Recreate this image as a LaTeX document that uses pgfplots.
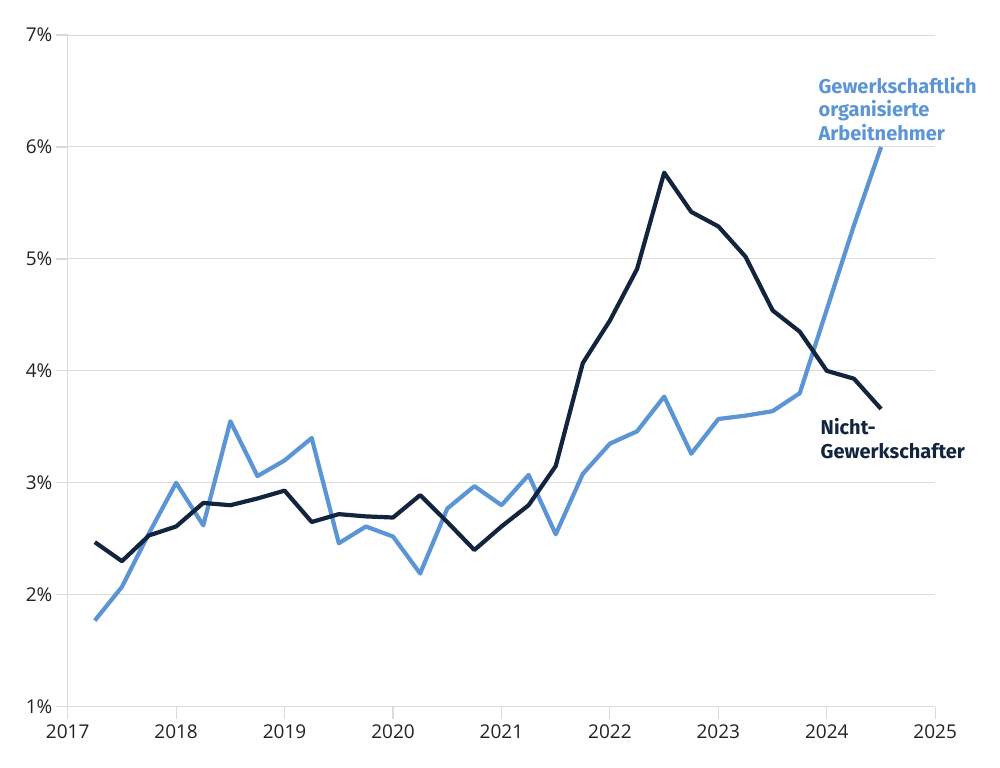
\documentclass[border=0pt]{standalone}
\usepackage{fontspec}
\setmainfont{Open Sans}
\newfontfamily\labelfont{Fira Sans}
\usepackage{pgfplots}
\pgfplotsset{compat=1.18}

\definecolor{unionblue}{HTML}{5B95D6}
\definecolor{nonunion}{HTML}{13243F}
\definecolor{gridgray}{HTML}{DADADA}
\definecolor{ticktext}{HTML}{222222}

\begin{document}
\begin{tikzpicture}
\begin{axis}[
  at={(0,0)}, anchor=south west,
  scale only axis,
  width=433.8pt, height=335.85pt,
  xmin=2017, xmax=2025,
  ymin=1, ymax=7,
  xtick={2017,...,2025},
  ytick={1,...,7},
  axis x line=bottom,
  axis y line=left,
  axis line style={draw=gridgray, line width=0.6pt, -},
  tick align=outside,
  major tick length=6pt,
  tick style={draw=gridgray, line width=0.6pt},
  ymajorgrids,
  grid style={draw=gridgray, line width=0.5pt},
  /pgf/number format/assume math mode=true,
  /pgf/number format/1000 sep={},
  ticklabel style={font=\fontsize{9.5}{11}\selectfont, text=ticktext},
  yticklabel={\pgfmathprintnumber{\tick}\%},
  yticklabel style={inner xsep=1.5pt},
  xticklabel style={inner ysep=3pt},
  clip=false,
]
% Gewerkschaftlich organisierte Arbeitnehmer
\addplot[unionblue, line width=2.1pt, line join=round] coordinates {
 (2017.25,1.77) (2017.5,2.07) (2017.75,2.55) (2018,3.00)
 (2018.25,2.62) (2018.5,3.55) (2018.75,3.06) (2019,3.20)
 (2019.25,3.40) (2019.5,2.46) (2019.75,2.61) (2020,2.52)
 (2020.25,2.19) (2020.5,2.77) (2020.75,2.97) (2021,2.80)
 (2021.25,3.07) (2021.5,2.54) (2021.75,3.08) (2022,3.35)
 (2022.25,3.46) (2022.5,3.77) (2022.75,3.26) (2023,3.57)
 (2023.25,3.60) (2023.5,3.64) (2023.75,3.80) (2024,4.55)
 (2024.25,5.30) (2024.5,6.00)
};
% Nicht-Gewerkschafter
\addplot[nonunion, line width=2.1pt, line join=round] coordinates {
 (2017.25,2.47) (2017.5,2.30) (2017.75,2.53) (2018,2.61)
 (2018.25,2.82) (2018.5,2.80) (2018.75,2.86) (2019,2.93)
 (2019.25,2.65) (2019.5,2.72) (2019.75,2.70) (2020,2.69)
 (2020.25,2.89) (2020.5,2.65) (2020.75,2.40) (2021,2.61)
 (2021.25,2.80) (2021.5,3.15) (2021.75,4.07) (2022,4.45)
 (2022.25,4.91) (2022.5,5.77) (2022.75,5.42) (2023,5.29)
 (2023.25,5.02) (2023.5,4.54) (2023.75,4.35) (2024,4.00)
 (2024.25,3.93) (2024.5,3.66)
};
\node[anchor=north west, inner sep=0pt, align=left, text=unionblue,
  font=\labelfont\bfseries\fontsize{10}{11.75}\selectfont]
  at (axis cs:2023.92,6.63) {Gewerkschaftlich\\organisierte\\Arbeitnehmer};
\node[anchor=north west, inner sep=0pt, align=left, text=nonunion,
  font=\labelfont\bfseries\fontsize{10}{11.75}\selectfont]
  at (axis cs:2023.94,3.58) {Nicht-\\Gewerkschafter};
\end{axis}
\pgfresetboundingbox
\path[use as bounding box] (-33.85pt,-30.15pt) rectangle (466.15pt,353.35pt);
\end{tikzpicture}
\end{document}
